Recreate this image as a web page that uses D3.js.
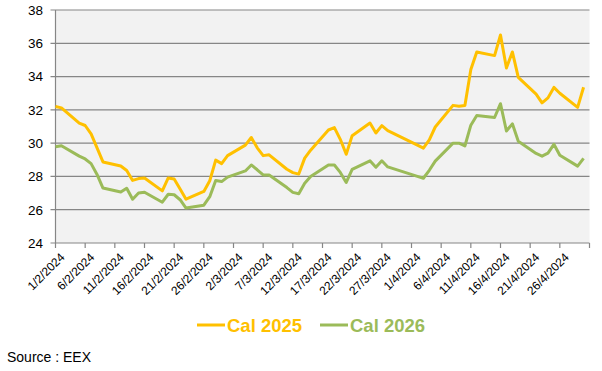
<!DOCTYPE html>
<html>
<head>
<meta charset="utf-8">
<script src="https://cdn.jsdelivr.net/npm/d3@7.9.0/dist/d3.min.js"></script>
<style>
  body { margin: 0; background: #fff; }
  svg { display: block; font-family: Arial, "Liberation Sans", sans-serif; }
</style>
</head>
<body>
<svg id="chart" width="602" height="371"></svg>
<script>
// trading days, Feb - Apr 2024
const dates = [
  '2024-02-01','2024-02-02','2024-02-05','2024-02-06','2024-02-07','2024-02-08','2024-02-09',
  '2024-02-12','2024-02-13','2024-02-14','2024-02-15','2024-02-16',
  '2024-02-19','2024-02-20','2024-02-21','2024-02-22','2024-02-23',
  '2024-02-26','2024-02-27','2024-02-28','2024-02-29','2024-03-01',
  '2024-03-04','2024-03-05','2024-03-06','2024-03-07','2024-03-08',
  '2024-03-11','2024-03-12','2024-03-13','2024-03-14','2024-03-15',
  '2024-03-18','2024-03-19','2024-03-20','2024-03-21','2024-03-22',
  '2024-03-25','2024-03-26','2024-03-27','2024-03-28',
  '2024-04-02','2024-04-03','2024-04-04','2024-04-05',
  '2024-04-08','2024-04-09','2024-04-10','2024-04-11','2024-04-12',
  '2024-04-15','2024-04-16','2024-04-17','2024-04-18','2024-04-19',
  '2024-04-22','2024-04-23','2024-04-24','2024-04-25','2024-04-26',
  '2024-04-29','2024-04-30'
];

const cal2025 = [
  32.2, 32.12, 31.2, 31.06, 30.56, 29.72, 28.87,
  28.63, 28.36, 27.76, 27.87, 27.91,
  27.13, 27.91, 27.84, 27.25, 26.63,
  27.1, 27.74, 28.98, 28.77, 29.25,
  29.88, 30.34, 29.72, 29.25, 29.3,
  28.43, 28.23, 28.14, 29.1, 29.58,
  30.79, 30.93, 30.23, 29.33, 30.45,
  31.21, 30.61, 31.05, 30.75,
  29.88, 29.7, 30.2, 30.97,
  32.27, 32.22, 32.26, 34.42, 35.48,
  35.26, 36.5, 34.52, 35.48, 33.95,
  32.95, 32.42, 32.72, 33.35, 33.0,
  32.15, 33.36
];

const cal2026 = [
  29.78, 29.84, 29.22, 29.05, 28.77, 28.12, 27.3,
  27.06, 27.29, 26.63, 27.0, 27.05,
  26.45, 26.93, 26.9, 26.6, 26.1,
  26.27, 26.78, 27.75, 27.69, 27.96,
  28.33, 28.69, 28.4, 28.09, 28.09,
  27.33, 27.04, 26.96, 27.59, 27.99,
  28.69, 28.69, 28.24, 27.64, 28.43,
  28.94, 28.55, 28.94, 28.57,
  28.0, 27.89, 28.37, 28.92,
  30.0, 30.0, 29.83, 31.08, 31.66,
  31.54, 32.37, 30.73, 31.16, 30.12,
  29.38, 29.22, 29.4, 29.93, 29.27,
  28.62, 29.08
];

const seriesNames = ['Cal 2025', 'Cal 2026'];
const seriesColors = ['#FFC000', '#9BBB59'];
const yTicks = [24, 26, 28, 30, 32, 34, 36, 38];

const parse = d3.timeParse('%Y-%m-%d');
const fmt = d3.timeFormat('%-d/%-m/%Y');
const days = dates.map(parse);
const series = [cal2025, cal2026].map((vals, i) => ({
  name: seriesNames[i],
  color: seriesColors[i],
  points: vals.map((v, j) => ({ date: days[j], value: v }))
}));

const svg = d3.select('#chart');
const plotL = 55.5, plotR = 589.5, plotT = 10, plotB = 243;

const start = parse('2024-02-01'), end = parse('2024-05-01');
const x = d3.scaleTime().domain([start, end]).range([plotL, plotR]);
const y = d3.scaleLinear().domain([24, 38]).range([plotB, plotT]);

// plot background
svg.append('rect')
  .attr('x', plotL).attr('y', plotT)
  .attr('width', plotR - plotL).attr('height', plotB - plotT)
  .attr('fill', '#F2F2F2');

// gridlines + y labels
const yg = svg.append('g');
yTicks.forEach(t => {
  yg.append('line')
    .attr('x1', plotL - 5).attr('x2', plotR)
    .attr('y1', y(t)).attr('y2', y(t))
    .attr('stroke', '#868686').attr('stroke-width', 1.2);
  yg.append('text')
    .attr('x', 43).attr('y', y(t)).attr('dy', '0.36em')
    .attr('text-anchor', 'end')
    .attr('font-size', 13.5).attr('fill', '#000')
    .text(t);
});
svg.append('line')
  .attr('x1', plotL).attr('x2', plotL).attr('y1', plotT).attr('y2', plotB)
  .attr('stroke', '#868686').attr('stroke-width', 1.2);

// x ticks every 5 days
const xTicks = d3.timeDay.range(start, d3.timeDay.offset(end, 1), 5);
const xg = svg.append('g');
xTicks.forEach((d, i) => {
  xg.append('line')
    .attr('x1', x(d)).attr('x2', x(d)).attr('y1', plotB).attr('y2', plotB + 5)
    .attr('stroke', '#868686').attr('stroke-width', 1.2);
  if (i < xTicks.length - 1) {
    xg.append('text')
      .attr('transform', `translate(${x(d) + 4},${plotB + 9}) rotate(-45)`)
      .attr('text-anchor', 'end')
      .attr('dy', '0.7em')
      .attr('font-size', 12).attr('fill', '#000')
      .text(fmt(d));
  }
});

// lines
const line = d3.line().x(d => x(d.date)).y(d => y(d.value));
series.forEach(s => {
  svg.append('path')
    .datum(s.points)
    .attr('d', line)
    .attr('fill', 'none')
    .attr('stroke', s.color)
    .attr('stroke-width', 3)
    .attr('stroke-linejoin', 'round');
});

// legend
const legendX = [197, 320];
series.forEach((s, i) => {
  const g = svg.append('g').attr('transform', `translate(${legendX[i]},325)`);
  g.append('line').attr('x1', 0).attr('x2', 28).attr('y1', 0).attr('y2', 0)
    .attr('stroke', s.color).attr('stroke-width', 3);
  g.append('text').attr('x', 30).attr('y', 0).attr('dy', '0.36em')
    .attr('font-size', 18.5).attr('font-weight', 'bold').attr('fill', s.color)
    .text(s.name);
});

svg.append('text')
  .attr('x', 7).attr('y', 362)
  .attr('font-size', 14).attr('fill', '#000')
  .text('Source : EEX');
</script>
</body>
</html>
